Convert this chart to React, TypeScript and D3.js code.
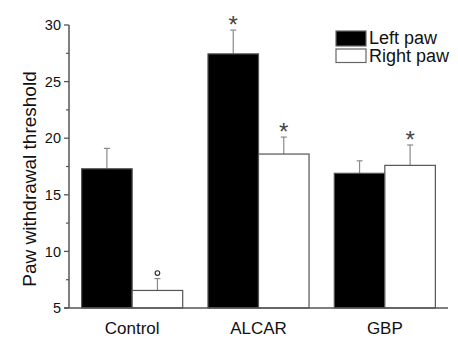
import React from "react";
import * as d3 from "d3";

const categories = ["Control", "ALCAR", "GBP"];
const seriesNames = ["Left paw", "Right paw"];
const leftMeans = [17.3, 27.45, 16.9];
const leftErr = [1.8, 2.1, 1.1];
const rightMeans = [6.55, 18.6, 17.6];
const rightErr = [1.05, 1.5, 1.8];
const leftMarks = ["", "*", ""];
const rightMarks = ["o", "*", "*"];
const yTicks = [5, 10, 15, 20, 25, 30];
const yMinorTicks = [7.5, 12.5, 17.5, 22.5, 27.5];

const W = 458, H = 338;
const M = { left: 69, right: 10, top: 25, bottom: 30 };

export default function App() {
  const x = d3.scaleBand<string>().domain(categories).range([M.left, 448]).padding(0);
  const y = d3.scaleLinear().domain([5, 30]).range([308, 25]);
  const bw = x.bandwidth() * 0.4;
  const axisColor = "#555";
  const errColor = "#8a8a8a";
  const font = "Arial, 'Liberation Sans', sans-serif";

  const series = [
    { means: leftMeans, errs: leftErr, marks: leftMarks, fill: "#000", stroke: "#555", off: -bw },
    { means: rightMeans, errs: rightErr, marks: rightMarks, fill: "#fff", stroke: "#555", off: 0 },
  ];

  return (
    <svg width={W} height={H} style={{ position: "absolute", left: 0, top: 0 }} fontFamily={font}>
      <rect width={W} height={H} fill="#fff" />
      {series.map((s, si) =>
        categories.map((c, i) => {
          const cx = (x(c) as number) + x.bandwidth() / 2;
          const x0 = cx + s.off;
          const top = y(s.means[i]);
          const errTop = y(s.means[i] + s.errs[i]);
          const mid = x0 + bw / 2;
          return (
            <g key={`${si}-${i}`}>
              <line x1={mid} x2={mid} y1={top} y2={errTop} stroke={errColor} strokeWidth={1.2} />
              <line x1={mid - 3} x2={mid + 3} y1={errTop} y2={errTop} stroke={errColor} strokeWidth={1.2} />
              <rect x={x0} y={top} width={bw} height={y(5) - top} fill={s.fill} stroke={s.stroke} strokeWidth={1.2} />
              {s.marks[i] === "*" && (
                <text x={mid} y={errTop + 3} textAnchor="middle" fontSize={24} fill="#444">*</text>
              )}
              {s.marks[i] === "o" && (
                <circle cx={mid} cy={errTop - 5.5} r={2.3} fill="none" stroke="#333" strokeWidth={1.2} />
              )}
            </g>
          );
        })
      )}
      {/* y axis */}
      <line x1={M.left} x2={M.left} y1={y(30)} y2={y(5)} stroke={axisColor} strokeWidth={1.5} />
      {yTicks.map((t) => (
        <g key={t}>
          <line x1={M.left - 5} x2={M.left} y1={y(t)} y2={y(t)} stroke={axisColor} strokeWidth={1.3} />
          <text x={M.left - 8} y={y(t)} dy="0.36em" textAnchor="end" fontSize={14.5} fill="#111">{t}</text>
        </g>
      ))}
      {yMinorTicks.map((t) => (
        <line key={t} x1={M.left - 3} x2={M.left} y1={y(t)} y2={y(t)} stroke={axisColor} strokeWidth={1.2} />
      ))}
      {/* x axis */}
      <line x1={M.left - 5} x2={448} y1={y(5)} y2={y(5)} stroke={axisColor} strokeWidth={1.5} />
      {categories.map((c) => (
        <text key={c} x={(x(c) as number) + x.bandwidth() / 2} y={334} textAnchor="middle" fontSize={17} fill="#111">{c}</text>
      ))}
      <text transform={`translate(36,179) rotate(-90)`} textAnchor="middle" fontSize={19} fill="#111">
        Paw withdrawal threshold
      </text>
      {/* legend */}
      {seriesNames.map((n, i) => (
        <g key={n}>
          <rect x={336} y={31 + i * 18} width={30} height={i === 0 ? 15 : 13.5} fill={i === 0 ? "#000" : "#fff"} stroke="#666" strokeWidth={1.2} />
          <text x={369} y={44 + i * 18} fontSize={18} fill="#111">{n}</text>
        </g>
      ))}
    </svg>
  );
}
